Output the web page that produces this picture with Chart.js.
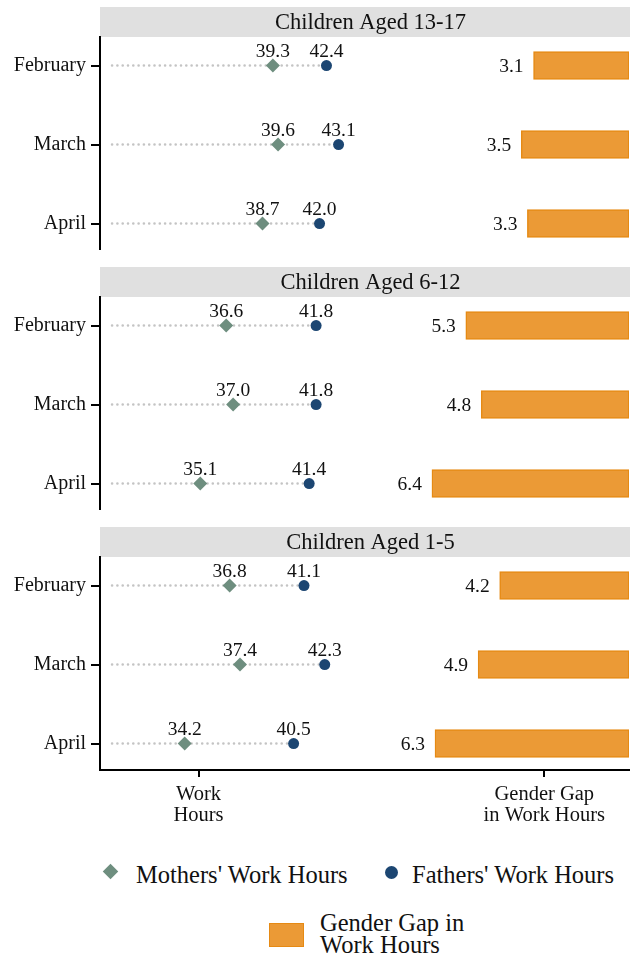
<!DOCTYPE html>
<html>
<head>
<meta charset="utf-8">
<script src="https://cdn.jsdelivr.net/npm/chart.js@4.4.1/dist/chart.umd.min.js"></script>
<style>
  body { margin: 0; background: #fff; width: 630px; height: 959px; position: relative; overflow: hidden;
         font-family: 'Liberation Serif', 'DejaVu Serif', serif; color: #111; }
  .panel { position: absolute; left: 0; width: 630px; }
  .panel canvas { display: block; }
  .lg { position: absolute; font-size: 24.5px; line-height: 22px; white-space: nowrap; }
  .diamond { position: absolute; width: 11px; height: 11px; background: #6e8e7f; transform: rotate(45deg); }
  .dot { position: absolute; width: 13px; height: 13px; border-radius: 50%; background: #1c4672; }
  .box { position: absolute; width: 33px; height: 22px; background: #eb9a36; border: 1.5px solid #e68a14; }
</style>
</head>
<body>
<div class="panel" style="top:7px"><canvas id="panel0" width="630" height="243"></canvas></div>
<div class="panel" style="top:267px"><canvas id="panel1" width="630" height="243"></canvas></div>
<div class="panel" style="top:527px"><canvas id="panel2" width="630" height="313"></canvas></div>

<span class="diamond" style="left:105px;top:866px"></span>
<span class="lg" style="left:136px;top:864px">Mothers' Work Hours</span>
<span class="dot" style="left:385px;top:866px"></span>
<span class="lg" style="left:412px;top:864px">Fathers' Work Hours</span>
<span class="box" style="left:269px;top:923px"></span>
<span class="lg" style="left:320px;top:912px">Gender Gap in<br>Work Hours</span>

<script>
const months = ['February', 'March', 'April'];
const panelTitles = ['Children Aged 13-17', 'Children Aged 6-12', 'Children Aged 1-5'];
const mothersHours = [[39.3, 39.6, 38.7], [36.6, 37.0, 35.1], [36.8, 37.4, 34.2]];
const fathersHours = [[42.4, 43.1, 42.0], [41.8, 41.8, 41.4], [41.1, 42.3, 40.5]];
const genderGap = [[3.1, 3.5, 3.3], [5.3, 4.8, 6.4], [4.2, 4.9, 6.3]];
const xTickValues = [35, 55];
const xTickLabels = [['Work', 'Hours'], ['Gender Gap', 'in Work Hours']];

const hoursMin = 29.3, hoursMax = 59.9;   // dot scale
const gapMax = 17.18;                      // bar scale, drawn from the right edge
const lineStart = 30;
const stripHeight = 30;
const serif = "'Liberation Serif', 'DejaVu Serif', serif";

// grey header strip with the panel title
const stripPlugin = {
    id: 'strip',
    beforeDraw(chart, args, opts) {
        const a = chart.chartArea;
        const c = chart.ctx;
        c.save();
        c.fillStyle = '#e0e0e0';
        c.fillRect(a.left, a.top - stripHeight, a.right - a.left + 1, stripHeight);
        c.font = '22.5px ' + serif;
        c.fillStyle = '#111';
        c.textAlign = 'center';
        c.textBaseline = 'middle';
        c.fillText(opts.text, (a.left + a.right) / 2 + 6, a.top - stripHeight / 2 + 1);
        c.restore();
    }
};

// numbers above the markers and left of the bars
const valueLabels = {
    id: 'valueLabels',
    afterDatasetsDraw(chart) {
        const c = chart.ctx;
        c.save();
        c.font = '19.5px ' + serif;
        c.fillStyle = '#111';
        chart.data.datasets.forEach((ds, d) => {
            if (!ds.labelPos) return;
            chart.getDatasetMeta(d).data.forEach((el, j) => {
                const txt = ds.data[j].x.toFixed(1);
                if (ds.labelPos === 'above') {
                    c.textAlign = 'center';
                    c.fillText(txt, el.x, el.y - 9);
                } else {
                    c.textAlign = 'right';
                    c.fillText(txt, el.x - 10, el.y + 6.5);
                }
            });
        });
        c.restore();
    }
};

function makePanel(i) {
    const last = i === panelTitles.length - 1;
    const ctx = document.getElementById('panel' + i).getContext('2d');

    const connectors = months.map((m, j) => ({
        type: 'line',
        data: [{ x: lineStart, y: j }, { x: fathersHours[i][j], y: j }],
        xAxisID: 'x', yAxisID: 'y',
        borderColor: '#c4c4c4', borderWidth: 2.6,
        borderDash: [0, 5.3], borderCapStyle: 'round',
        pointRadius: 0, order: 5
    }));

    return new Chart(ctx, {
        type: 'bar',
        data: {
            datasets: [
                {
                    type: 'bar',
                    label: 'Gender Gap in Work Hours',
                    data: genderGap[i].map((v, j) => ({ x: v, y: j })),
                    xAxisID: 'xGap', yAxisID: 'y',
                    backgroundColor: '#eb9a36', borderColor: '#e68a14',
                    borderWidth: 1.5, borderSkipped: false, barThickness: 28,
                    labelPos: 'left', order: 4
                },
                ...connectors,
                {
                    type: 'line',
                    label: "Mothers' Work Hours",
                    data: mothersHours[i].map((v, j) => ({ x: v, y: j })),
                    xAxisID: 'x', yAxisID: 'y',
                    showLine: false, pointStyle: 'rectRot', pointRadius: 7,
                    pointBackgroundColor: '#6e8e7f', pointBorderWidth: 0,
                    labelPos: 'above', order: 1
                },
                {
                    type: 'line',
                    label: "Fathers' Work Hours",
                    data: fathersHours[i].map((v, j) => ({ x: v, y: j })),
                    xAxisID: 'x', yAxisID: 'y',
                    showLine: false, pointStyle: 'circle', pointRadius: 5.5,
                    pointBackgroundColor: '#1c4672', pointBorderWidth: 0,
                    labelPos: 'above', order: 0
                }
            ]
        },
        options: {
            indexAxis: 'y',
            responsive: false,
            animation: false,
            layout: { autoPadding: false, padding: { left: 0, right: 1, top: stripHeight, bottom: 0 } },
            plugins: {
                legend: { display: false },
                tooltip: { enabled: false },
                title: { display: false },
                strip: { text: panelTitles[i] }
            },
            scales: {
                x: {
                    type: 'linear', min: hoursMin, max: hoursMax,
                    display: last, position: 'bottom',
                    afterBuildTicks: s => { s.ticks = xTickValues.map(v => ({ value: v })); },
                    afterFit: s => { s.height = last ? 70 : 0; },
                    ticks: {
                        callback: v => xTickLabels[xTickValues.indexOf(v)],
                        autoSkip: false, maxRotation: 0, color: '#111', padding: 7,
                        font: { family: serif, size: 20.5, lineHeight: 1.02 }
                    },
                    grid: { drawOnChartArea: false, drawTicks: true, tickLength: 7, color: '#000', lineWidth: 2 },
                    border: { display: true, color: '#000', width: 2 }
                },
                xGap: {
                    type: 'linear', min: 0, max: gapMax, reverse: true, display: false,
                    afterFit: s => { s.height = 0; }
                },
                y: {
                    type: 'linear', min: -0.361, max: 2.335, reverse: true, position: 'left',
                    offset: false,
                    afterBuildTicks: s => { s.ticks = months.map((m, j) => ({ value: j })); },
                    afterFit: s => { s.width = 100; s.paddingTop = 0; s.paddingBottom = 0; },
                    ticks: {
                        callback: v => months[v],
                        autoSkip: false, color: '#111', padding: 5,
                        font: { family: serif, size: 20 }
                    },
                    grid: { offset: false, drawOnChartArea: false, drawTicks: true, tickLength: 9, color: '#000', lineWidth: 2 },
                    border: { display: true, color: '#000', width: 2 }
                }
            }
        },
        plugins: [stripPlugin, valueLabels]
    });
}

document.fonts.load('20px "Liberation Serif"').then(() => {
    panelTitles.forEach((t, i) => makePanel(i));
});
</script>
</body>
</html>
